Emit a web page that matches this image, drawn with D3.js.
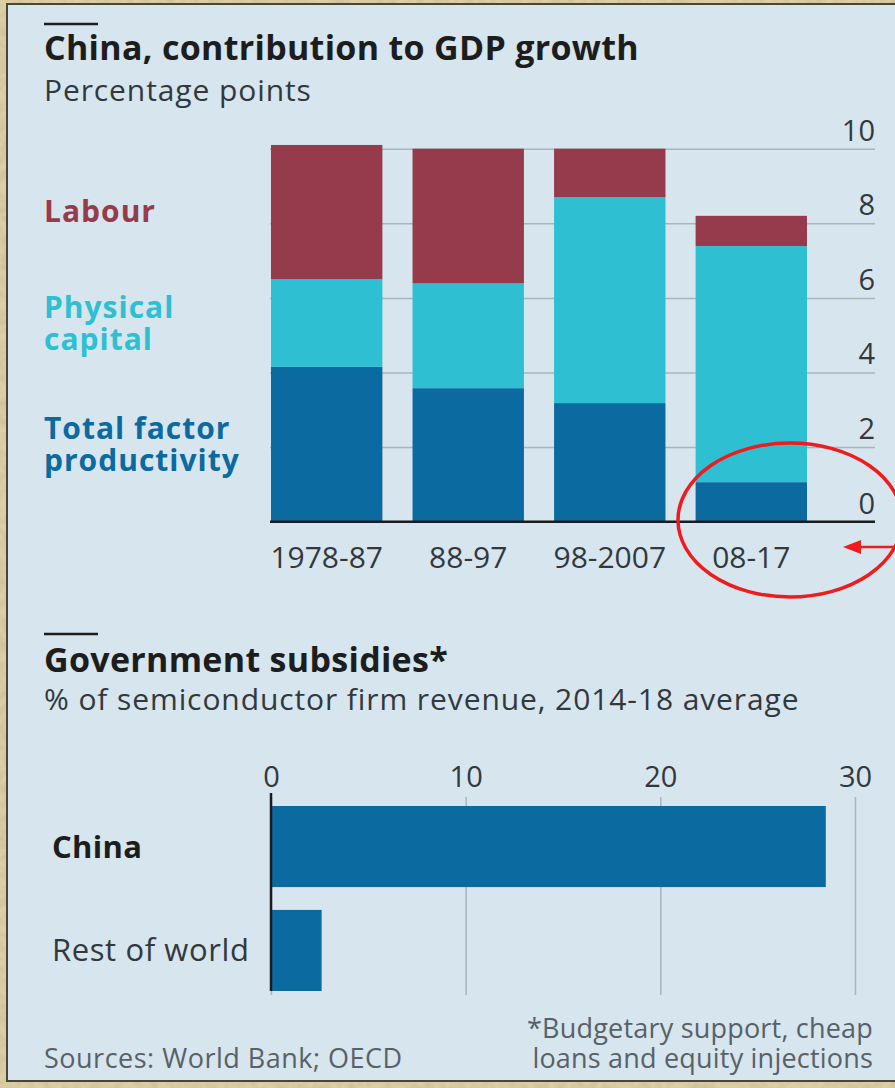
<!DOCTYPE html>
<html>
<head>
<meta charset="utf-8">
<script src="https://cdn.jsdelivr.net/npm/d3@7"></script>
<style>
  body { margin: 0; background: #cfc197; }
  svg { display: block; font-family: "Open Sans", Lato, sans-serif; }
</style>
</head>
<body>
<div id="chart"></div>
<script>
// data, top chart
const periods = ["1978-87", "88-97", "98-2007", "08-17"];
const tfp = [4.15, 3.58, 3.18, 1.06];
const capital = [2.35, 2.81, 5.52, 6.33];
const labour = [3.6, 3.61, 1.3, 0.81];
const gdpTicks = [0, 2, 4, 6, 8, 10];

// data, bottom chart
const regions = ["China", "Rest of world"];
const subsidy = [28.5, 2.6];
const subsidyTicks = [0, 10, 20, 30];

const W = 895, H = 1088;
const colours = {labour: "#963b4b", capital: "#2fbfd3", tfp: "#0b6a9f"};
const ink = "#1d1d1d", grey = "#33383c", foot = "#596166";

const svg = d3.select("#chart")
  .append("svg")
  .attr("width", W)
  .attr("height", H);

// parchment frame
const defs = svg.append("defs");
const f = defs.append("filter").attr("id", "paper").attr("x", 0).attr("y", 0).attr("width", 1).attr("height", 1);
f.append("feTurbulence").attr("type", "fractalNoise").attr("baseFrequency", 0.12).attr("numOctaves", 3).attr("seed", 4);
f.append("feColorMatrix").attr("values",
  "0 0 0 0 0.55  0 0 0 0 0.48  0 0 0 0 0.30  0 0 0 1.1 -0.35");
f.append("feComposite").attr("in2", "SourceGraphic").attr("operator", "in");
svg.append("rect").attr("width", W).attr("height", H).attr("fill", "#dccfa6");
svg.append("rect").attr("width", W).attr("height", H).attr("fill", "#dccfa6").attr("filter", "url(#paper)");

// panel
svg.append("rect")
  .attr("x", 7).attr("y", 4)
  .attr("width", W).attr("height", 1077)
  .attr("fill", "#d6e5ee")
  .attr("stroke", "#4a4636")
  .attr("stroke-width", 2);

// ---------- top chart ----------
const y = d3.scaleLinear().domain([0, 10]).range([521.7, 148.7]);
const x = d3.scaleBand().domain(periods).range([271, 807]).paddingInner(0.213);

svg.append("line").attr("x1", 44).attr("x2", 98).attr("y1", 24).attr("y2", 24)
  .attr("stroke", ink).attr("stroke-width", 2.5);
svg.append("text").attr("x", 44).attr("y", 60)
  .style("font-size", "34px").style("font-weight", 700).style("letter-spacing", "0.3px").attr("fill", ink)
  .text("China, contribution to GDP growth");
svg.append("text").attr("x", 44).attr("y", 101)
  .style("font-size", "30px").style("letter-spacing", "0.9px").attr("fill", grey)
  .text("Percentage points");

// gridlines + labels
const yAxis = svg.append("g")
  .attr("transform", "translate(875,0)")
  .call(d3.axisLeft(y).tickValues(gdpTicks).tickSize(875 - 270).tickFormat(d3.format("d")));
yAxis.select(".domain").remove();
yAxis.selectAll(".tick line").attr("stroke", "#a8b5bd").attr("stroke-width", 1.5);
yAxis.selectAll(".tick text")
  .attr("x", 0).attr("dy", "-0.3em").attr("text-anchor", "end")
  .style("font-size", "29px").style("font-family", "'Open Sans', sans-serif").attr("fill", grey);

// stacked bars
const rows = periods.map((p, i) => ({period: p, tfp: tfp[i], capital: capital[i], labour: labour[i]}));
const stack = d3.stack().keys(["tfp", "capital", "labour"])(rows);
svg.append("g").selectAll("g")
  .data(stack)
  .join("g")
  .attr("fill", d => colours[d.key])
  .selectAll("rect")
  .data(d => d)
  .join("rect")
  .attr("x", d => x(d.data.period))
  .attr("width", x.bandwidth())
  .attr("y", d => y(d[1]))
  .attr("height", d => y(d[0]) - y(d[1]));

svg.append("line").attr("x1", 270).attr("x2", 875).attr("y1", y(0)).attr("y2", y(0))
  .attr("stroke", "#1a1d20").attr("stroke-width", 2.5);

const xAxis = svg.append("g")
  .attr("transform", `translate(0,${y(0)})`)
  .call(d3.axisBottom(x).tickSize(0).tickPadding(0));
xAxis.select(".domain").remove();
xAxis.selectAll("text")
  .attr("dy", 0).attr("y", 46)
  .style("font-size", "30px").style("font-family", "'Open Sans', sans-serif").attr("fill", grey);

// legend labels
const legend = [
  {lines: ["Labour"], y: 222, c: colours.labour},
  {lines: ["Physical", "capital"], y: 318, c: colours.capital},
  {lines: ["Total factor", "productivity"], y: 439, c: colours.tfp}
];
legend.forEach(l => {
  const t = svg.append("text").attr("x", 44).attr("y", l.y)
    .style("font-size", "30px").style("font-weight", 700).style("letter-spacing", "1px").attr("fill", l.c);
  l.lines.forEach((s, i) => t.append("tspan").attr("x", 44).attr("dy", i ? 32 : 0).text(s));
});

// ---------- bottom chart ----------
const xs = d3.scaleLinear().domain([0, 30]).range([271, 855]);
const ys = d3.scaleBand().domain(regions).range([806, 991]).paddingInner(0.22);

svg.append("line").attr("x1", 44).attr("x2", 98).attr("y1", 634).attr("y2", 634)
  .attr("stroke", ink).attr("stroke-width", 2.5);
svg.append("text").attr("x", 44).attr("y", 672)
  .style("font-size", "34px").style("font-weight", 700).style("letter-spacing", "0.3px").attr("fill", ink)
  .text("Government subsidies*");
svg.append("text").attr("x", 44).attr("y", 710)
  .style("font-size", "30px").style("letter-spacing", "0.9px").attr("fill", grey)
  .text("% of semiconductor firm revenue, 2014-18 average");

const sAxis = svg.append("g")
  .attr("transform", "translate(0,995)")
  .call(d3.axisTop(xs).tickValues(subsidyTicks).tickSize(995 - 797).tickPadding(10));
sAxis.select(".domain").remove();
sAxis.selectAll(".tick line").attr("stroke", "#a8b5bd").attr("stroke-width", 1.5);
sAxis.selectAll(".tick text")
  .style("font-size", "29px").style("font-family", "'Open Sans', sans-serif").attr("fill", grey);

svg.append("g").selectAll("rect")
  .data(regions)
  .join("rect")
  .attr("x", xs(0))
  .attr("y", d => ys(d))
  .attr("width", (d, i) => xs(subsidy[i]) - xs(0))
  .attr("height", ys.bandwidth())
  .attr("fill", colours.tfp);

svg.append("line").attr("x1", xs(0)).attr("x2", xs(0)).attr("y1", 793).attr("y2", 991)
  .attr("stroke", "#1a1d20").attr("stroke-width", 2.5);

svg.append("g").selectAll("text")
  .data(regions)
  .join("text")
  .attr("x", 52)
  .attr("y", d => ys(d) + ys.bandwidth() / 2 + 11)
  .style("font-size", "31px")
  .style("letter-spacing", (d, i) => i === 0 ? "0.3px" : "0.6px")
  .style("font-weight", (d, i) => i === 0 ? 700 : 400)
  .attr("fill", (d, i) => i === 0 ? ink : grey)
  .text(d => d);

// footer
svg.append("text").attr("x", 44).attr("y", 1068)
  .style("font-size", "27px").style("letter-spacing", "0.5px").attr("fill", foot)
  .text("Sources: World Bank; OECD");
const note = svg.append("text").attr("text-anchor", "end")
  .style("font-size", "27px").style("letter-spacing", "0.2px").attr("fill", foot);
note.append("tspan").attr("x", 873).attr("y", 1038).text("*Budgetary support, cheap");
note.append("tspan").attr("x", 873).attr("y", 1068).text("loans and equity injections");

// red annotation
svg.append("ellipse")
  .attr("cx", 790).attr("cy", 520).attr("rx", 112).attr("ry", 77)
  .attr("fill", "none").attr("stroke", "#ee1c1c").attr("stroke-width", 3.5);
svg.append("line").attr("x1", 858).attr("x2", 895).attr("y1", 547).attr("y2", 547)
  .attr("stroke", "#ee1c1c").attr("stroke-width", 2.5);
svg.append("path").attr("d", "M843,547 L861,540 L861,554 Z").attr("fill", "#ee1c1c");
</script>
</body>
</html>
